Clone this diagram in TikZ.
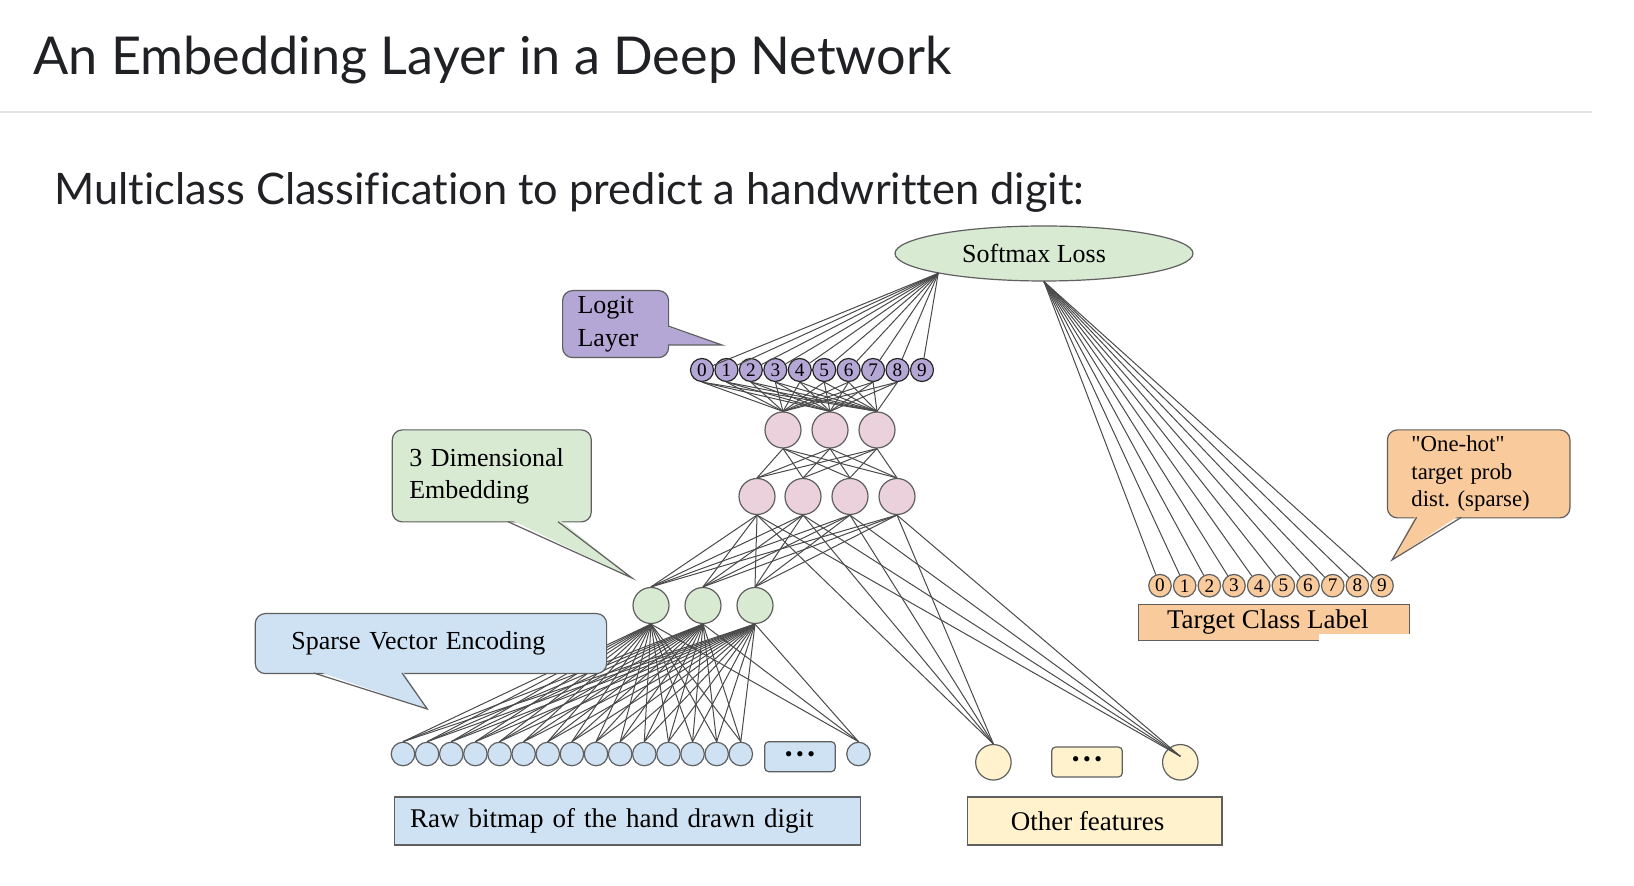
\documentclass[tikz,border=0pt]{standalone}
\usepackage{fontspec}
\setmainfont{Liberation Serif}
\newfontfamily\slidefont[Ligatures=NoCommon]{Lato}
\usetikzlibrary{shapes.geometric,calc}
\definecolor{emBlue}{HTML}{CFE2F3}
\definecolor{emGreen}{HTML}{D9EAD3}
\definecolor{emPink}{HTML}{EAD1DC}
\definecolor{emPurple}{HTML}{B4A7D6}
\definecolor{emYellow}{HTML}{FFF2CC}
\definecolor{emOrange}{HTML}{F9CB9C}
\definecolor{emLine}{HTML}{4A4A4A}
\definecolor{emEdge}{HTML}{5F5F5F}
\definecolor{emRule}{HTML}{E3E3E3}
\definecolor{emText}{HTML}{202124}
\tikzset{
  emnode/.style={draw=emEdge, line width=0.6pt, inner sep=0pt},
  logit/.style={emnode, circle, fill=emPurple, draw=black!85, minimum size=11.5pt,
    font=\fontsize{9.6}{10}\selectfont},
  hiddenunit/.style={emnode, circle, fill=emPink, minimum size=18pt},
  embed/.style={emnode, circle, fill=emGreen, minimum size=18pt},
  pixel/.style={emnode, circle, fill=emBlue, minimum size=11.75pt},
  feature/.style={emnode, circle, fill=emYellow, minimum size=17.75pt},
  tclass/.style={emnode, circle, fill=emOrange, minimum size=11.25pt,
    font=\fontsize{9.6}{10}\selectfont},
  dotsbox/.style={emnode, rounded corners=2pt, minimum width=35.3pt, minimum height=15pt,
    font=\fontsize{11}{11}\selectfont},
  labelbox/.style={emnode, minimum height=24pt, font=\fontsize{13.5}{16}\selectfont},
  calloutbox/.style={emnode, rounded corners=5pt, align=left, anchor=north west,
    font=\fontsize{13}{16}\selectfont},
  pointer/.style={draw=emEdge, line width=0.6pt},
  wire/.style={draw=emLine, line width=0.5pt},
  heading/.style={anchor=base west, inner sep=0pt, text=emText}
}
\newcommand{\threedots}{\textbullet\hspace{1.8pt}\textbullet\hspace{1.8pt}\textbullet}
\frenchspacing

\begin{document}
\begin{tikzpicture}[x=0.5pt, y=-0.5pt]
  \fill[white] (0,0) rectangle (1634,886);
  \useasboundingbox (0,0) rectangle (1634,886);
  % slide heading
  \node[heading, font=\slidefont\fontsize{26.1}{30}\selectfont] (title) at (33,75)
    {An Embedding Layer in a Deep Network};
  \draw[emRule, line width=1.1pt] (0,112) -- (1592,112);
  \node[heading, font=\slidefont\fontsize{21.7}{24}\selectfont] (subtitle) at (54,205)
    {Multiclass Classification to predict a handwritten digit:};

  % network units
  \node[emnode, ellipse, fill=emGreen, minimum width=149pt, minimum height=27.5pt,
    font=\fontsize{13}{16}\selectfont] (soft) at (1044,253.5) {Softmax Loss\hspace*{10pt}};
  \foreach \i in {0,...,9}
    \node[logit] (l\i) at ({702+24.44*\i},370) {\i};
  \foreach \x [count=\i] in {783,830,877}
    \node[hiddenunit] (a\i) at (\x,430) {};
  \foreach \x [count=\i] in {757,803,850,897}
    \node[hiddenunit] (h\i) at (\x,496.5) {};
  \foreach \x [count=\i] in {651,703,755}
    \node[embed] (g\i) at (\x,605.5) {};
  \foreach \i in {1,...,15}
    \node[pixel] (b\i) at ({403+24.13*(\i-1)},754) {};
  \node[dotsbox, fill=emBlue] (bdots) at (800,756.7) {\threedots};
  \node[pixel] (b16) at (858.5,754) {};
  \node[feature] (o1) at (993.4,762.3) {};
  \node[dotsbox, fill=emYellow] (odots) at (1087,762) {\threedots};
  \node[feature] (o2) at (1180.3,762.3) {};
  \foreach \i in {0,...,9}
    \node[tclass] (t\i) at ({1160+24.67*\i},585.7) {\i};

  % connections
  \foreach \i in {0,...,9} {
    \draw[wire] (soft.south west) -- (l\i);
    \draw[wire] (soft.south) -- (t\i);
  }
  \foreach \i in {0,...,8}
    \foreach \j in {1,2,3}
      \draw[wire] (l\i.south) -- (a\j.north);
  \foreach \i in {1,2,3}
    \foreach \j in {1,...,4}
      \draw[wire] (a\i.south) -- (h\j.north);
  \foreach \i in {1,...,4} {
    \foreach \j in {1,2,3}
      \draw[wire] (h\i.south) -- (g\j.north);
    \draw[wire] (h\i.south) -- (o1.north);
    \draw[wire] (h\i.south) -- ($(o2.center)+(0,-6)$);
  }
  \foreach \i in {1,2,3}
    \foreach \j in {1,...,16}
      \draw[wire] (g\i.south) -- (b\j.north);

  % callouts
  \node[calloutbox, fill=emPurple, minimum width=53pt, minimum height=33.5pt,
    text width=38pt, inner xsep=7.5pt, font=\fontsize{13}{16.8}\selectfont]
    (logitnote) at (562,290) {Logit\\Layer};
  \fill[emPurple] (665,326) -- (722,345) -- (665,345) -- cycle;
  \draw[pointer] (668,326) -- (722,345) -- (668,345);

  \node[calloutbox, fill=emGreen, minimum width=99.5pt, minimum height=46pt,
    text width=82.5pt, inner xsep=8.5pt] (embednote) at (391.7,429.3) {3 Dimensional\\Embedding};
  \fill[emGreen] (508,518.5) -- (632,578) -- (558,518.5) -- cycle;
  \draw[pointer] (508,521.7) -- (632,578) -- (558,521.7);

  \node[calloutbox, fill=emBlue, minimum width=175.65pt, minimum height=30pt,
    text width=139.65pt, inner xsep=18pt] (sparsenote) at (254.7,613) {Sparse Vector Encoding};
  \fill[emBlue] (313.7,670) -- (427.3,709) -- (402,670) -- cycle;
  \draw[pointer] (313.7,673) -- (427.3,709) -- (402,673);

  \node[calloutbox, fill=emOrange, minimum width=91.25pt, minimum height=44pt,
    text width=67.25pt, inner xsep=12pt, font=\fontsize{11.4}{13.75}\selectfont]
    (hotnote) at (1386.8,429.3) {\textquotedbl One-hot\textquotedbl\\target prob\\dist. (sparse)};
  \fill[emOrange] (1416.6,514) -- (1392,560) -- (1461.4,514) -- cycle;
  \draw[pointer] (1416.6,517.3) -- (1392,560) -- (1461.4,517.3);

  % group labels
  \node[labelbox, fill=emBlue, anchor=west, minimum width=233pt, text width=217pt,
    inner xsep=8pt, align=left] (rawbox) at (393.6,821) {Raw bitmap of the hand drawn digit};
  \node[labelbox, fill=emYellow, minimum width=127.3pt] (otherbox) at (1094.6,821)
    {Other features\hspace*{7pt}};
  \node[labelbox, fill=emOrange, minimum width=135.4pt, minimum height=18.2pt]
    (classbox) at (1273.8,622.5) {Target Class Label\hspace*{6pt}};
  \fill[white] (1319,633.8) rectangle (1412,644);
\end{tikzpicture}
\end{document}
